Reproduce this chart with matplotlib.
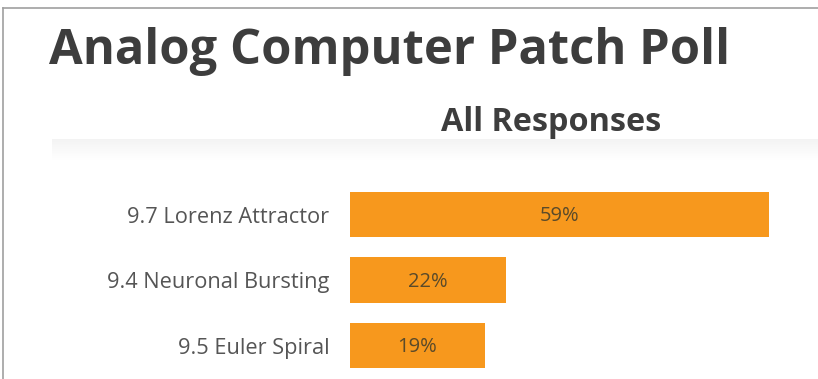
import numpy as np
import matplotlib.pyplot as plt
from matplotlib.lines import Line2D

# data
categories = ['9.7 Lorenz Attractor', '9.4 Neuronal Bursting', '9.5 Euler Spiral']
shares = [59, 22, 19]
bar_labels = ['59%', '22%', '19%']

W, H = 818, 379
fig = plt.figure(figsize=(W / 100, H / 100), dpi=100)
fig.patch.set_facecolor('white')

def fx(px):
    return px / W

def fy(py):
    return 1 - py / H

# frame lines (top and left)
fig.add_artist(Line2D([fx(3), 1], [fy(8), fy(8)], color='#a0a0a0', lw=1.2))
fig.add_artist(Line2D([fx(3), fx(3)], [fy(8), 0], color='#a0a0a0', lw=1.2))

# faint band under subtitle
band = fig.add_axes([fx(52), fy(160), 1 - fx(52), (160 - 139) / H])
shade = np.linspace(0.955, 1.0, 40)
band.imshow(np.dstack([shade, shade, shade]).reshape(-1, 1, 3), aspect='auto',
            extent=[0, 1, 0, 1], interpolation='bilinear')
band.set_axis_off()

# titles
fig.text(fx(49), fy(64), 'Analog Computer Patch Poll', fontsize=35.2, fontweight='bold',
         family='Open Sans', color='#3d3d3d', ha='left', va='baseline')
fig.text(fx(551), fy(131), 'All Responses', fontsize=23.3, fontweight='bold',
         family='Open Sans', color='#3d3d3d', ha='center', va='baseline')

# bar chart
ax = fig.add_axes([fx(350), 0, 1 - fx(350), 199 / H])
y = np.arange(len(categories))
ax.barh(y, shares, height=0.69, color='#f7981d')
ax.set_xlim(0, 65.9)
ax.set_ylim(2.511, -0.527)
for yi, v, lab in zip(y, shares, bar_labels):
    ax.text(v / 2, yi + 0.03, lab, ha='center', va='center', fontsize=14.5,
            family='Open Sans', color='#5a4a2a')
ax.set_yticks(y)
ax.set_yticklabels(categories, fontsize=15.7, family='Open Sans', color='#555555')
ax.tick_params(axis='y', length=0, pad=15)
ax.set_xticks([])
for s in ax.spines.values():
    s.set_visible(False)
ax.patch.set_alpha(0)

fig.savefig('out.png', dpi=100)
